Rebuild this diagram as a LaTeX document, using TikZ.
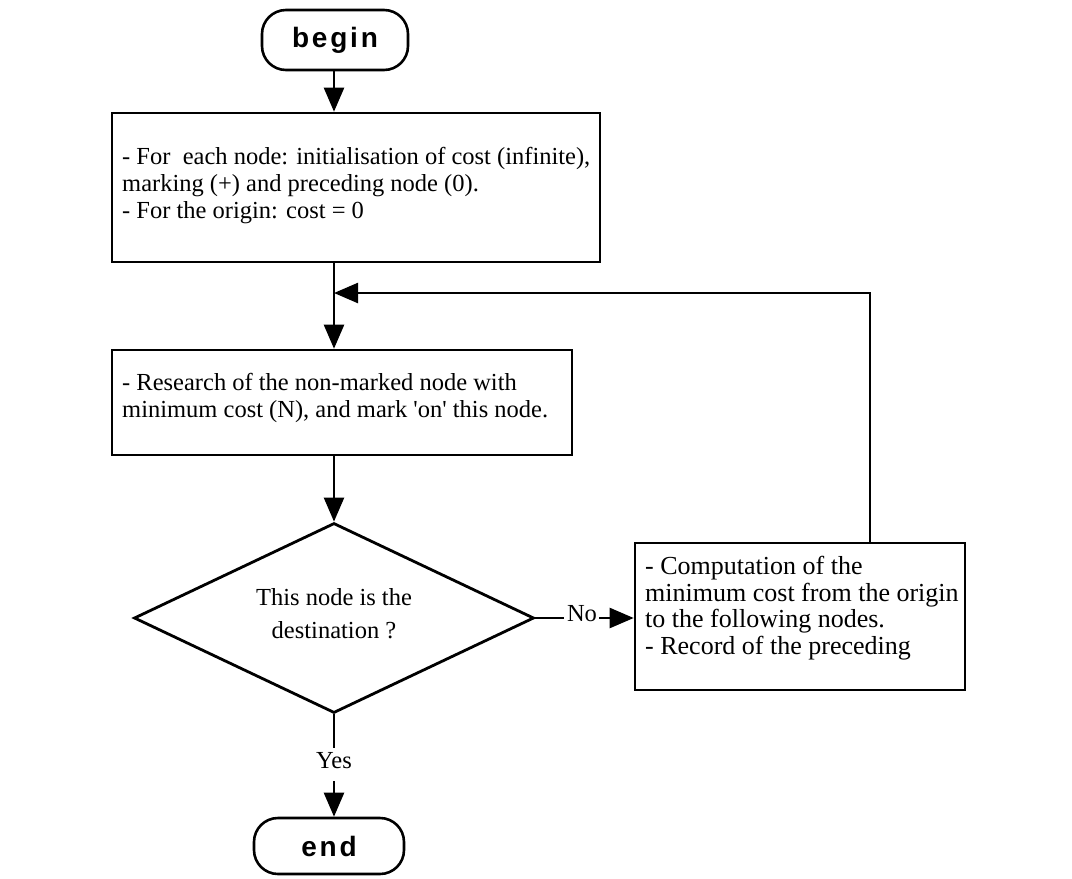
\documentclass[tikz,border=0pt]{standalone}
\usepackage{fontspec}
\setmainfont{Liberation Serif}[Ligatures=TeXOff]
\newfontfamily\termfont[LetterSpace=10]{Liberation Sans}
\usetikzlibrary{arrows.meta,shapes.geometric}
\tikzset{
  box/.style={draw, line width=2.6pt, rectangle, inner sep=0pt},
  term/.style={draw, line width=2.6pt, rectangle, rounded corners=24pt, inner sep=0pt,
    font=\termfont\bfseries\fontsize{28}{32}\selectfont},
  txt/.style={font=\fontsize{24.5}{27}\selectfont, align=left, inner sep=0pt},
  ctxt/.style={font=\fontsize{24.5}{33}\selectfont, align=center, inner sep=0pt},
  plain/.style={line width=2.4pt},
  flow/.style={line width=2.4pt, -{Triangle[length=24pt,width=20pt]}},
}
\begin{document}
\begin{tikzpicture}[x=1pt,y=-1pt]
\useasboundingbox (0,0) rectangle (1072,879);
% terminals
\node[term, minimum width=146pt, minimum height=60pt] (begin) at (335,40) {begin};
\node[term, minimum width=150pt, minimum height=56pt] (end) at (329,846) {end};
% boxes
\node[box, minimum width=488pt, minimum height=149pt] (init) at (356,187.5) {};
\node[txt, anchor=west] (initT) at (122,186) {- For\ \ each node: initialisation of cost (infinite),\\marking (+) and preceding node (0).\\- For the origin: cost = 0};
\node[box, minimum width=460pt, minimum height=105pt] (srch) at (342,402.5) {};
\node[txt, anchor=west] (srchT) at (122,398) {- Research of the non-marked node with\\minimum cost (N), and mark 'on' this node.};
\node[draw, diamond, line width=2.8pt, minimum width=400pt, minimum height=190pt, inner sep=0pt] (dec) at (334,618) {};
\node[ctxt] (decT) at (334,614) {This node is the\\destination ?};
\node[box, minimum width=330pt, minimum height=147pt] (comp) at (800,616.5) {};
\node[txt, anchor=west, font=\fontsize{26}{26.5}\selectfont] (compT) at (645,608) {- Computation of the\\minimum cost from the origin\\to the following nodes.\\- Record of the preceding};
% labels
\node[ctxt, anchor=base] (no) at (582,621) {No};
\node[ctxt] (yes) at (334,761) {Yes};
% coordinates
\coordinate (j) at (334,293);
\coordinate (lp) at (870,293);
% connectors
\draw[flow] (begin.south -| j) -- (j |- init.north);
\draw[plain] (j |- init.south) -- (j);
\draw[flow] (j) -- (j |- srch.north);
\draw[flow] (j |- srch.south) -- (dec.north);
\draw[plain] (dec.east) -- ([xshift=-3pt]no.west |- dec.east);
\draw[flow] ([xshift=2pt]no.east |- dec.east) -- (comp.west |- dec.east);
\draw[flow] (lp |- comp.north) -- (lp) -- (j);
\draw[plain] (dec.south) -- ([yshift=5pt]yes.north);
\draw[flow] ([yshift=-12pt]yes.south) -- (yes.south |- end.north);
\end{tikzpicture}
\end{document}
